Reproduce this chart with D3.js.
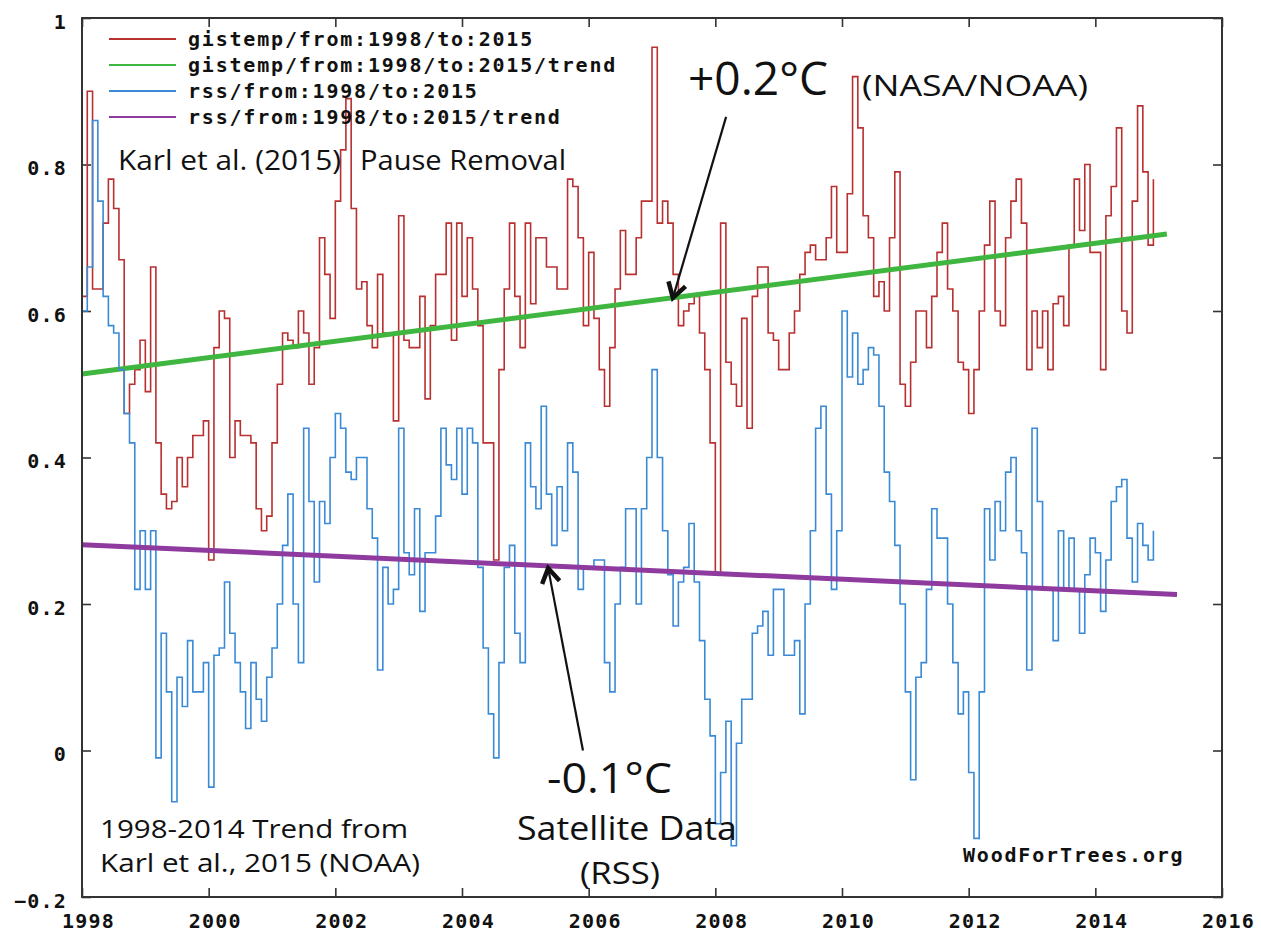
<!DOCTYPE html>
<html><head><meta charset="utf-8">
<script src="https://cdn.jsdelivr.net/npm/d3@7"></script>
<style>body{margin:0;background:#fff} svg{display:block}</style>
</head><body>
<svg id="chart" width="1261" height="935"></svg>
<script>
// ---------------- data ----------------
const startYear = 1998;            // monthly series start (Jan 1998)
const xTickValues = [1998, 2000, 2002, 2004, 2006, 2008, 2010, 2012, 2014, 2016];
const yTickValues = [-0.2, 0, 0.2, 0.4, 0.6, 0.8, 1];

// GISTEMP monthly anomalies, Jan 1998 – Dec 2014
const gistemp = [
  0.62,0.90,0.63,0.63,0.72,0.78,0.74,0.67,0.46,0.50,0.52,0.56,
  0.49,0.66,0.42,0.35,0.33,0.34,0.40,0.36,0.40,0.43,0.43,0.45,
  0.26,0.55,0.60,0.59,0.40,0.45,0.43,0.43,0.42,0.33,0.30,0.32,
  0.42,0.50,0.57,0.56,0.55,0.60,0.57,0.50,0.55,0.70,0.65,0.59,
  0.75,0.82,0.89,0.74,0.63,0.64,0.58,0.55,0.65,0.57,0.57,0.45,
  0.73,0.56,0.55,0.55,0.62,0.48,0.58,0.65,0.65,0.72,0.56,0.72,
  0.62,0.70,0.63,0.58,0.42,0.42,0.26,0.52,0.63,0.72,0.62,0.55,
  0.72,0.61,0.70,0.70,0.66,0.66,0.63,0.63,0.78,0.77,0.70,0.58,
  0.68,0.59,0.52,0.47,0.55,0.63,0.71,0.65,0.65,0.70,0.75,0.75,
  0.96,0.72,0.75,0.72,0.65,0.58,0.60,0.61,0.62,0.57,0.52,0.42,
  0.24,0.72,0.53,0.50,0.47,0.59,0.44,0.62,0.66,0.66,0.57,0.56,
  0.52,0.52,0.57,0.60,0.65,0.68,0.69,0.67,0.67,0.70,0.77,0.68,
  0.68,0.76,0.92,0.85,0.73,0.70,0.62,0.64,0.60,0.70,0.79,0.50,
  0.47,0.53,0.60,0.60,0.55,0.62,0.68,0.72,0.63,0.60,0.53,0.52,
  0.46,0.52,0.60,0.69,0.75,0.60,0.58,0.70,0.75,0.78,0.72,0.52,
  0.60,0.55,0.60,0.52,0.61,0.62,0.58,0.69,0.78,0.71,0.80,0.68,
  0.68,0.52,0.73,0.77,0.85,0.60,0.57,0.75,0.88,0.79,0.69,0.78
];

// RSS monthly anomalies, Jan 1998 – Dec 2014
const rss = [
  0.60,0.66,0.86,0.75,0.62,0.58,0.57,0.52,0.46,0.42,0.22,0.30,
  0.22,0.30,-0.01,0.16,0.08,-0.07,0.10,0.06,0.15,0.08,0.08,0.12,
  -0.05,0.13,0.14,0.23,0.16,0.12,0.08,0.03,0.12,0.07,0.04,0.10,
  0.14,0.20,0.28,0.35,0.20,0.12,0.44,0.34,0.23,0.34,0.31,0.40,
  0.46,0.44,0.38,0.37,0.40,0.40,0.33,0.29,0.11,0.25,0.20,0.22,
  0.44,0.27,0.24,0.33,0.19,0.27,0.27,0.32,0.44,0.39,0.37,0.44,
  0.35,0.44,0.42,0.25,0.14,0.05,-0.01,0.12,0.25,0.28,0.16,0.12,
  0.42,0.36,0.33,0.47,0.35,0.28,0.36,0.30,0.42,0.38,0.22,0.25,
  0.25,0.26,0.26,0.12,0.08,0.20,0.25,0.33,0.33,0.20,0.33,0.40,
  0.52,0.40,0.30,0.24,0.17,0.23,0.25,0.31,0.23,0.15,0.07,0.02,
  -0.10,-0.03,0.04,-0.13,0.01,0.07,0.07,0.16,0.17,0.19,0.13,0.22,
  0.22,0.13,0.13,0.15,0.05,0.20,0.30,0.44,0.47,0.35,0.22,0.30,
  0.60,0.51,0.57,0.50,0.52,0.55,0.54,0.47,0.38,0.34,0.28,0.20,
  0.08,-0.04,0.10,0.12,0.22,0.33,0.29,0.29,0.20,0.12,0.05,0.08,
  -0.03,-0.12,0.08,0.33,0.26,0.34,0.30,0.38,0.40,0.30,0.27,0.11,
  0.44,0.34,0.22,0.22,0.15,0.30,0.22,0.29,0.22,0.16,0.24,0.29,
  0.27,0.19,0.26,0.34,0.36,0.37,0.29,0.23,0.31,0.28,0.26,0.30
];

// least-squares trend end points [year, value]
const gistempTrend = [[1998.0, 0.514], [2015.13, 0.705]];
const rssTrend     = [[1998.0, 0.281], [2015.29, 0.213]];

const legendLabels = [
  "gistemp/from:1998/to:2015",
  "gistemp/from:1998/to:2015/trend",
  "rss/from:1998/to:2015",
  "rss/from:1998/to:2015/trend"
];

// annotation arrows [year, value] from -> to
const arrowPlus  = [[2008.17, 0.865], [2007.33, 0.618]];
const arrowMinus = [[2005.91, 0.0],   [2005.36, 0.249]];

// ---------------- styles ----------------
const COL_RED = "#b83030", COL_GREEN = "#3fb63f", COL_BLUE = "#3a8ad6", COL_PURPLE = "#8e3a9e";
const legendColors = [COL_RED, COL_GREEN, COL_BLUE, COL_PURPLE];
const MONO = "'DejaVu Sans Mono', 'Liberation Mono', monospace";
const SANS = "'Open Sans', 'Noto Sans', 'DejaVu Sans', sans-serif";

const W = 1261, H = 935;
const L = 82, R = 1222, T = 18, B = 897;

const svg = d3.select("#chart");
svg.append("rect").attr("width", W).attr("height", H).attr("fill", "#fff");

const x = d3.scaleLinear().domain([1998, 2016]).range([L, R]);
const y = d3.scaleLinear().domain([-0.2, 1]).range([B, T]);

const fmtY = d => (Math.abs(d) < 1e-9 ? "0" : d3.format("~g")(d));

// axes
const gB = svg.append("g").attr("transform", `translate(0,${B})`)
  .call(d3.axisBottom(x).tickValues(xTickValues).tickSize(-9).tickPadding(17).tickFormat(d3.format("d")));
const gL = svg.append("g").attr("transform", `translate(${L},0)`)
  .call(d3.axisLeft(y).tickValues(yTickValues).tickSize(-9).tickPadding(15).tickFormat(fmtY));
const gT = svg.append("g").attr("transform", `translate(0,${T})`)
  .call(d3.axisTop(x).tickValues(xTickValues).tickSize(-9).tickFormat(""));
const gR = svg.append("g").attr("transform", `translate(${R},0)`)
  .call(d3.axisRight(y).tickValues(yTickValues).tickSize(-9).tickFormat(""));
[gB, gL, gT, gR].forEach(g => {
  g.select(".domain").remove();
  g.selectAll(".tick line").attr("stroke", "#333").attr("stroke-width", 1.6);
  g.selectAll("text").attr("font-family", MONO).attr("font-weight", "bold")
    .attr("font-size", 20).attr("letter-spacing", "1.2px").attr("fill", "#111");
});
gB.selectAll(".tick text").attr("dx", 6);
gL.selectAll(".tick text").attr("dy", "0.5em");

// series
const monthX = (d, i) => x(startYear + i / 12);
const stepLine = d3.line().x(monthX).y(d => y(d)).curve(d3.curveStepAfter);
const trendLine = d3.line().x(d => x(d[0])).y(d => y(d[1]));

svg.append("path").datum(gistemp).attr("d", stepLine)
  .attr("fill", "none").attr("stroke", COL_RED).attr("stroke-width", 1.6);
svg.append("path").datum(gistempTrend).attr("d", trendLine)
  .attr("fill", "none").attr("stroke", COL_GREEN).attr("stroke-width", 5);
svg.append("path").datum(rss).attr("d", stepLine)
  .attr("fill", "none").attr("stroke", COL_BLUE).attr("stroke-width", 1.6);
svg.append("path").datum(rssTrend).attr("d", trendLine)
  .attr("fill", "none").attr("stroke", COL_PURPLE).attr("stroke-width", 5);

// frame
svg.append("rect").attr("x", L).attr("y", T).attr("width", R - L).attr("height", B - T)
  .attr("fill", "none").attr("stroke", "#333").attr("stroke-width", 2);

// legend
const legY = [39, 65, 91, 117];
const leg = svg.append("g");
legendLabels.forEach((lab, i) => {
  leg.append("line").attr("x1", 109).attr("x2", 176).attr("y1", legY[i]).attr("y2", legY[i])
    .attr("stroke", legendColors[i]).attr("stroke-width", 2);
  leg.append("text").attr("x", 188).attr("y", legY[i]).attr("dy", "0.36em")
    .attr("font-family", MONO).attr("font-weight", "bold").attr("font-size", 20)
    .attr("letter-spacing", "1.8px").attr("fill", "#111").text(lab);
});

// watermark
svg.append("text").attr("x", 963).attr("y", 862)
  .attr("font-family", MONO).attr("font-weight", "bold").attr("font-size", 20)
  .attr("letter-spacing", "1.8px").attr("fill", "#111").text("WoodForTrees.org");

// annotations text
function note(txt, x0, yb, size, w) {
  svg.append("text").attr("x", x0).attr("y", yb).attr("font-family", SANS)
    .attr("font-size", size).attr("fill", "#111")
    .attr("textLength", w).attr("lengthAdjust", "spacingAndGlyphs")
    .text(txt);
}
note("Karl et al. (2015)", 118, 170, 27, 223);
note("Pause Removal", 360, 170, 27, 206);
note("+0.2°C", 688, 95, 46, 140);
note("(NASA/NOAA)", 862, 96, 30, 226);
note("-0.1°C", 547, 793, 42, 125);
note("Satellite Data", 517, 840, 32, 220);
note("(RSS)", 580, 884, 31, 80);
note("1998-2014 Trend from", 100, 838, 26, 308);
note("Karl et al., 2015 (NOAA)", 100, 872, 26, 320);

// arrows
function arrow(a) {
  const x1 = x(a[0][0]), y1 = y(a[0][1]), x2 = x(a[1][0]), y2 = y(a[1][1]);
  svg.append("line").attr("x1", x1).attr("y1", y1).attr("x2", x2).attr("y2", y2)
    .attr("stroke", "#111").attr("stroke-width", 2.2);
  const ang = Math.atan2(y1 - y2, x1 - x2), len = 17, spread = 0.55;
  const p1 = [x2 + len * Math.cos(ang + spread), y2 + len * Math.sin(ang + spread)];
  const p2 = [x2 + len * Math.cos(ang - spread), y2 + len * Math.sin(ang - spread)];
  svg.append("path").attr("d", `M${p1}L${x2},${y2}L${p2}`)
    .attr("fill", "none").attr("stroke", "#111").attr("stroke-width", 4.5)
    .attr("stroke-linejoin", "miter");
}
arrow(arrowPlus);
arrow(arrowMinus);
</script>
</body></html>
